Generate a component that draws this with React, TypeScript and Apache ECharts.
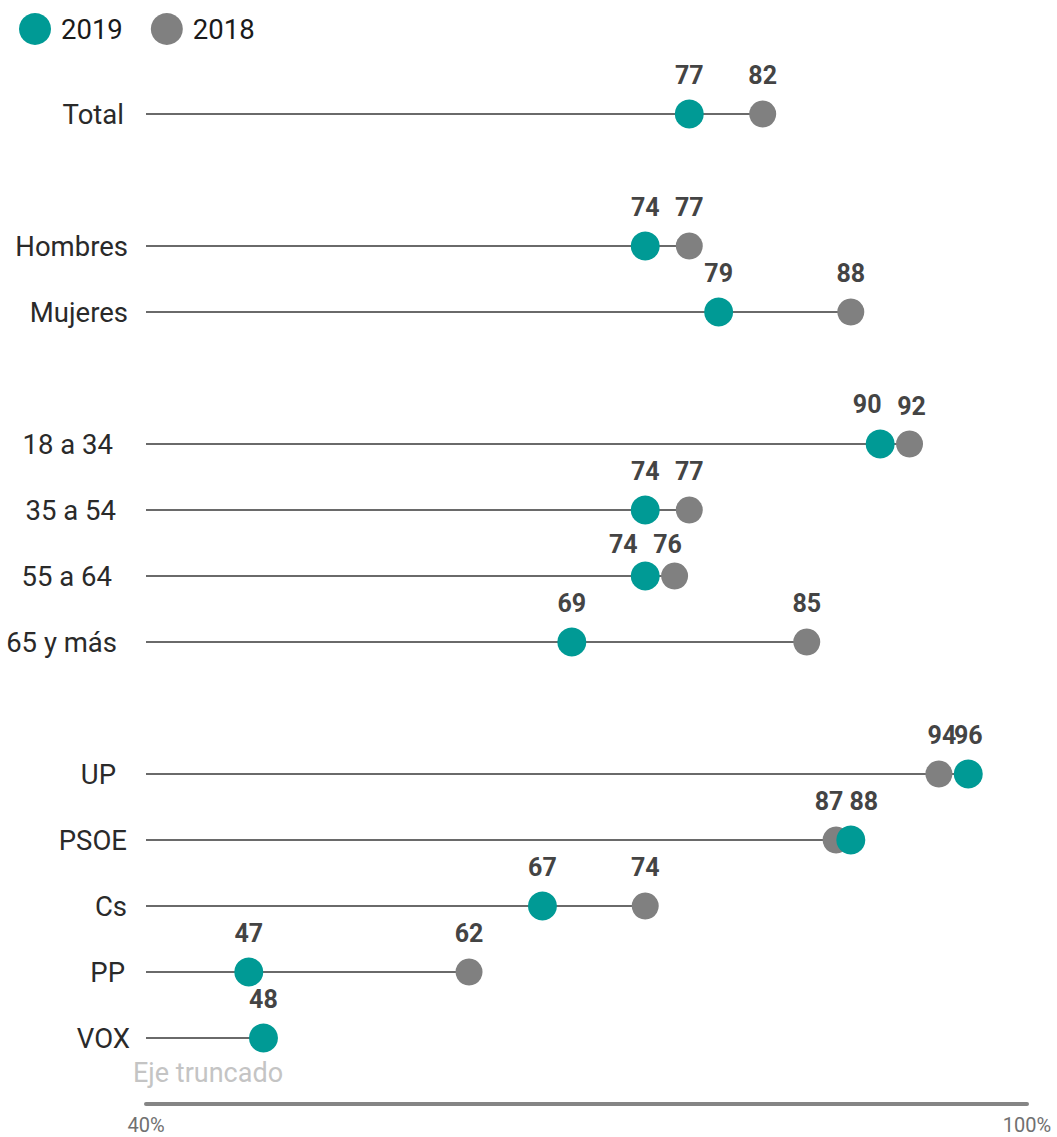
import React, { useEffect, useRef } from "react";
import * as echarts from "echarts";

// Categories (blank strings are group separators)
const categories = [
  "Total", "", "Hombres", "Mujeres", " ",
  "18 a 34", "35 a 54", "55 a 64", "65 y más", "  ",
  "UP", "PSOE", "Cs", "PP", "VOX", "   ",
];
const values2019 = [77, null, 74, 79, null, 90, 74, 74, 69, null, 96, 88, 67, 47, 48, null];
const values2018 = [82, null, 77, 88, null, 92, 77, 76, 85, null, 94, 87, 74, 62, null, null];
const xTicks = [40, 100];

// style: right padding of category labels (irregular alignment in reference)
const labelPad: Record<string, number> = {
  Total: 6, Hombres: 2, Mujeres: 2, "18 a 34": 17, "35 a 54": 14, "55 a 64": 18,
  "65 y más": 13, UP: 14, PSOE: 3, Cs: 3, PP: 5, VOX: 0,
};
// style: label offset overrides (category -> offset) per series
const offsets2019: Record<string, number[]> = {
  "55 a 64": [-22, -32],
  "18 a 34": [-13, -40],
  PSOE: [13, -39],
};
const offsets2018: Record<string, number[]> = {
  "55 a 64": [-7, -32],
  "18 a 34": [2, -38],
  PSOE: [-7, -39],
  UP: [3, -39],
};

const TEAL = "#009a95";
const GREY = "#808080";
const FONT = "Roboto";

export default function App() {
  const ref = useRef<HTMLDivElement>(null);
  useEffect(() => {
    if (!ref.current) return;
    const chart = echarts.init(ref.current, null, { renderer: "svg" });
    const rich: Record<string, any> = {};
    const padKeys = Object.keys(labelPad);
    padKeys.forEach((k, i) => {
      rich["p" + i] = { padding: [0, labelPad[k], 0, 0], fontSize: 27.5, color: "#2a2a2a", fontFamily: FONT };
    });
    const lineVals = values2019.map((v, i) => {
      const a = v, b = values2018[i];
      if (a == null && b == null) return null;
      return Math.max(a ?? -Infinity, b ?? -Infinity);
    });
    const mkData = (vals: (number | null)[], offs: Record<string, number[]>) =>
      vals.map((v, i) => {
        if (v == null) return { value: [null, i] };
        const item: any = { value: [v, i] };
        const o = offs[categories[i]];
        if (o) item.label = { offset: o };
        return item;
      });
    const labelCfg = {
      show: true,
      position: "inside",
      offset: [0, -39],
      fontFamily: FONT,
      fontWeight: "bold",
      fontSize: 25,
      color: "#444",
      formatter: (p: any) => String(p.value[0]),
    };
    chart.setOption({
      animation: false,
      textStyle: { fontFamily: FONT },
      legend: {
        data: ["2019", "2018"],
        left: 14,
        top: 8,
        icon: "circle",
        itemWidth: 42,
        itemHeight: 32,
        itemGap: 28,
        textStyle: { fontSize: 27.5, color: "#1a1a1a", fontFamily: FONT },
      },
      grid: { left: 146, right: 30, top: 114, bottom: 33, containLabel: false },
      xAxis: {
        type: "value",
        min: xTicks[0],
        max: xTicks[1],
        interval: xTicks[1] - xTicks[0],
        axisLine: { show: true, lineStyle: { color: "#858585", width: 4 } },
        axisTick: { show: false },
        splitLine: { show: false },
        axisLabel: {
          formatter: (v: number) => `${v}%`,
          fontSize: 20,
          lineHeight: 20,
          color: "#707070",
          margin: 11,
          fontFamily: FONT,
        },
      },
      yAxis: {
        type: "category",
        inverse: true,
        boundaryGap: false,
        data: categories,
        axisLine: { show: false },
        axisTick: { show: false },
        splitLine: { show: false },
        axisLabel: {
          margin: 16,
          interval: 0,
          fontSize: 27.5,
          color: "#2a2a2a",
          formatter: (v: string) => {
            const idx = padKeys.indexOf(v);
            if (idx < 0) return "";
            return `{p${idx}|${v}}`;
          },
          rich,
        },
      },
      graphic: [
        {
          type: "text",
          left: 133,
          top: 1059,
          style: { text: "Eje truncado", fontSize: 27, fill: "#c4c4c4", fontFamily: FONT },
        },
      ],
      series: [
        {
          name: "line",
          type: "bar",
          data: lineVals,
          barWidth: 2,
          clip: true,
          silent: true,
          itemStyle: { color: "#6a6a6a" },
          z: 1,
        },
        {
          name: "2018",
          type: "scatter",
          symbol: "circle",
          symbolSize: 27,
          itemStyle: { color: GREY, opacity: 1 },
          label: labelCfg,
          data: mkData(values2018, offsets2018),
          z: 2,
        },
        {
          name: "2019",
          type: "scatter",
          symbol: "circle",
          symbolSize: 29,
          itemStyle: { color: TEAL, opacity: 1 },
          label: labelCfg,
          data: mkData(values2019, offsets2019),
          z: 3,
        },
      ],
    });
    return () => chart.dispose();
  }, []);
  return (
    <div
      ref={ref}
      style={{ position: "absolute", left: 0, top: 0, width: 1057, height: 1137 }}
    />
  );
}
